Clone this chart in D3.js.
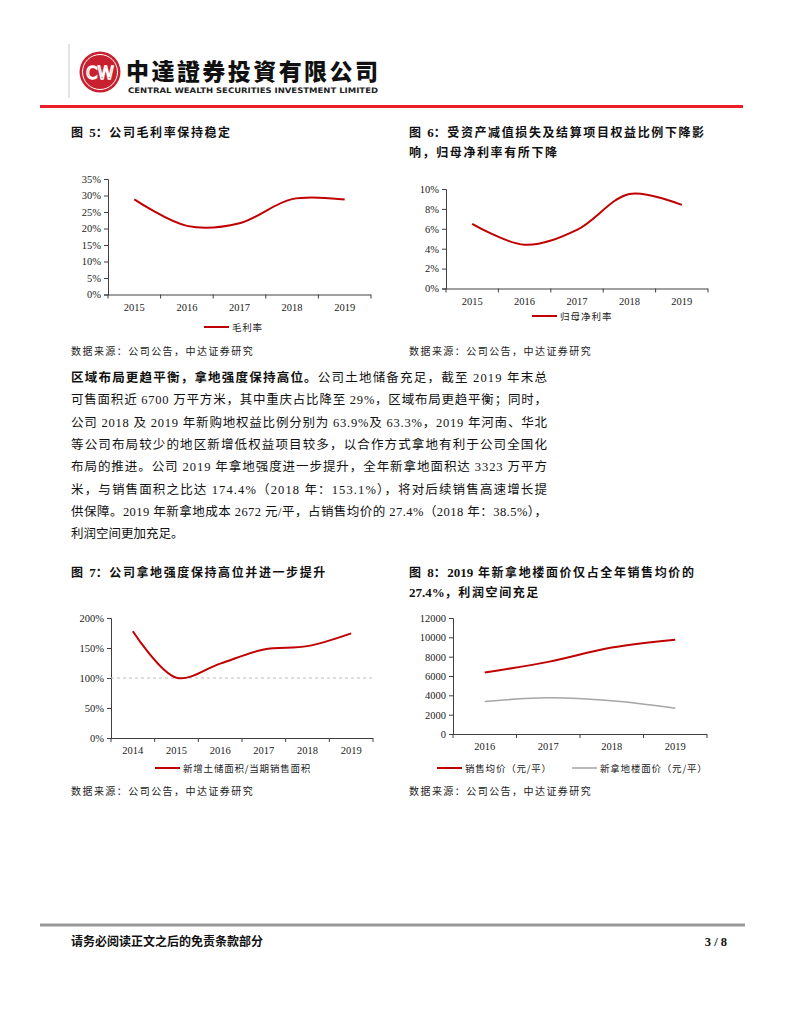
<!DOCTYPE html>
<html>
<head>
<meta charset="utf-8">
<script src="https://cdn.jsdelivr.net/npm/d3@7"></script>
<style>
  body { margin: 0; background: #fff; }
  svg { display: block; }
  .serif { font-family: "Liberation Serif", "Noto Sans CJK SC", serif; }
  .cjk { font-family: "Noto Sans CJK SC", sans-serif; }
</style>
</head>
<body>
<svg id="page" width="791" height="1024"></svg>
<script>
// chart data
const years5 = ["2015", "2016", "2017", "2018", "2019"];
const grossMargin = [28.8, 20.8, 21.6, 28.9, 28.8];
const netMargin = [6.5, 4.4, 5.9, 9.5, 8.4];
const years7 = ["2014", "2015", "2016", "2017", "2018", "2019"];
const landToSales = [178, 100.5, 124, 147.5, 153.1, 174.4];
const years8 = ["2016", "2017", "2018", "2019"];
const salesPrice = [6360, 7460, 8940, 9752];
const landPrice = [3370, 3750, 3440, 2672];

const RED = "#c00000";
const GREY = "#a6a6a6";
const AXIS = "#404040";

const svg = d3.select("#page");

// header
svg.append("line").attr("x1", 69).attr("x2", 69).attr("y1", 44).attr("y2", 98)
  .attr("stroke", "#c8c8c8").attr("stroke-width", 1);
svg.append("circle").attr("cx", 100).attr("cy", 72).attr("r", 20.5).attr("fill", "#c8202f");
svg.append("circle").attr("cx", 100).attr("cy", 72).attr("r", 17.5).attr("fill", "none")
  .attr("stroke", "#fff").attr("stroke-width", 1);
svg.append("text").attr("x", 100).attr("y", 78.5).attr("text-anchor", "middle")
  .attr("font-family", "DejaVu Sans").attr("font-size", 17).attr("fill", "none")
  .attr("stroke", "#fff").attr("stroke-width", 1.3).attr("textLength", 28)
  .attr("lengthAdjust", "spacingAndGlyphs").text("CW");
svg.append("text").attr("class", "cjk").attr("x", 126).attr("y", 80)
  .attr("font-size", 23).attr("font-weight", 900).attr("fill", "#111")
  .attr("textLength", 252).attr("lengthAdjust", "spacing").text("中達證券投資有限公司");
svg.append("text").attr("x", 128).attr("y", 92.5)
  .attr("font-family", "DejaVu Sans").attr("font-size", 7.6).attr("font-weight", "bold")
  .attr("fill", "#222").attr("textLength", 250).attr("lengthAdjust", "spacingAndGlyphs")
  .text("CENTRAL WEALTH SECURITIES INVESTMENT LIMITED");
svg.append("line").attr("x1", 40).attr("x2", 743).attr("y1", 106.5).attr("y2", 106.5)
  .attr("stroke", "#ee1c25").attr("stroke-width", 3);

// titles (numerals unspaced, CJK spaced)
const titles = [
  { x: 71, y: 137, lines: ["图 5：公司毛利率保持稳定"] },
  { x: 409, y: 137, lines: ["图 6：受资产减值损失及结算项目权益比例下降影", "响，归母净利率有所下降"] },
  { x: 71, y: 577, lines: ["图 7：公司拿地强度保持高位并进一步提升"] },
  { x: 409, y: 577, lines: ["图 8：2019 年新拿地楼面价仅占全年销售均价的", "27.4%，利润空间充足"] }
];
titles.forEach((t) => {
  t.lines.forEach((l, i) => {
    const tx = svg.append("text").attr("class", "serif").attr("x", t.x).attr("y", t.y + i * 20)
      .attr("font-size", 12).attr("font-weight", "bold").attr("fill", "#111");
    l.split(/([0-9.%]+)/).filter((s) => s).forEach((s) => {
      const num = /^[0-9.%]+$/.test(s);
      tx.append("tspan").attr("letter-spacing", num ? 0 : 1.6)
        .attr("font-size", num ? 13 : 12).text(s);
    });
  });
});

// source notes
[[71, 355], [409, 355], [71, 795], [409, 795]].forEach(([x, y]) => {
  svg.append("text").attr("class", "cjk").attr("x", x).attr("y", y)
    .attr("font-size", 10).attr("letter-spacing", 1.45).attr("fill", "#222")
    .text("数据来源：公司公告，中达证券研究");
});

function drawChart(cfg) {
  const g = svg.append("g");
  const x = d3.scaleBand().domain(cfg.cats).range([cfg.x0, cfg.x1]);
  const y = d3.scaleLinear().domain(cfg.yDomain).range([cfg.y0, cfg.y1]);

  // y axis
  const yAxis = d3.axisLeft(y).tickValues(cfg.yTicks).tickSize(4).tickFormat(cfg.fmt);
  const ya = g.append("g").attr("transform", `translate(${cfg.x0},0)`).call(yAxis);
  ya.select(".domain").attr("stroke", AXIS);
  ya.selectAll(".tick line").attr("stroke", AXIS);
  ya.selectAll(".tick text").attr("class", "serif").attr("font-size", 10.5)
    .attr("fill", "#222").attr("x", -7);

  // reference line
  if (cfg.refLine != null) {
    g.append("line").attr("x1", cfg.x0).attr("x2", cfg.x1)
      .attr("y1", y(cfg.refLine)).attr("y2", y(cfg.refLine))
      .attr("stroke", "#bfbfbf").attr("stroke-width", 1).attr("stroke-dasharray", "3,3");
  }

  // x axis with ticks at band edges
  g.append("line").attr("x1", cfg.x0).attr("x2", cfg.x1)
    .attr("y1", cfg.y0 + 0.5).attr("y2", cfg.y0 + 0.5).attr("stroke", AXIS);
  const edges = cfg.cats.map((c) => x(c)).concat([x(cfg.cats[cfg.cats.length - 1]) + x.bandwidth()]);
  g.selectAll(".xt").data(edges).enter().append("line")
    .attr("x1", (d) => d).attr("x2", (d) => d)
    .attr("y1", cfg.y0).attr("y2", cfg.y0 + 4).attr("stroke", AXIS);
  g.selectAll(".xl").data(cfg.cats).enter().append("text").attr("class", "serif")
    .attr("x", (d) => x(d) + x.bandwidth() / 2).attr("y", cfg.y0 + 16)
    .attr("text-anchor", "middle").attr("font-size", 10.5).attr("fill", "#222").text((d) => d);

  // lines
  const line = d3.line().x((d, i) => x(cfg.cats[i]) + x.bandwidth() / 2).y((d) => y(d))
    .curve(d3.curveCatmullRom.alpha(0.5));
  cfg.series.forEach((s) => {
    g.append("path").datum(s.values).attr("d", line).attr("fill", "none")
      .attr("stroke", s.color).attr("stroke-width", s.width || 2);
  });

  // legend
  cfg.series.forEach((s) => {
    const lx = s.legendX, ly = cfg.legendY;
    g.append("line").attr("x1", lx).attr("x2", lx + 25).attr("y1", ly).attr("y2", ly)
      .attr("stroke", s.color).attr("stroke-width", s.width || 2);
    g.append("text").attr("class", "cjk").attr("x", lx + 28).attr("y", ly + 3.5)
      .attr("font-size", 9.5).attr("letter-spacing", s.ls || 0.8).attr("fill", "#222").text(s.name);
  });
}

const pct = (d) => d + "%";

drawChart({
  cats: years5, x0: 108, x1: 371, y0: 294.5, y1: 179, yDomain: [0, 35],
  yTicks: d3.range(0, 36, 5), fmt: pct, legendY: 327,
  series: [{ name: "毛利率", values: grossMargin, color: RED, legendX: 204 }]
});
drawChart({
  cats: years5, x0: 446, x1: 708, y0: 288.5, y1: 189, yDomain: [0, 10],
  yTicks: d3.range(0, 11, 2), fmt: pct, legendY: 316,
  series: [{ name: "归母净利率", values: netMargin, color: RED, legendX: 532, ls: 1 }]
});
drawChart({
  cats: years7, x0: 111, x1: 373, y0: 738, y1: 618, yDomain: [0, 200],
  yTicks: d3.range(0, 201, 50), fmt: pct, legendY: 768, refLine: 100,
  series: [{ name: "新增土储面积/当期销售面积", values: landToSales, color: RED, legendX: 155 }]
});
drawChart({
  cats: years8, x0: 453, x1: 707, y0: 734, y1: 618, yDomain: [0, 12000],
  yTicks: d3.range(0, 12001, 2000), fmt: (d) => String(d), legendY: 768,
  series: [
    { name: "销售均价（元/平）", values: salesPrice, color: RED, legendX: 437 },
    { name: "新拿地楼面价（元/平）", values: landPrice, color: GREY, legendX: 572, width: 1.6 }
  ]
});

// body paragraph
const para = [
  ["区域布局更趋平衡，拿地强度保持高位。", "公司土地储备充足，截至 2019 年末总"],
  ["", "可售面积近 6700 万平方米，其中重庆占比降至 29%，区域布局更趋平衡；同时，"],
  ["", "公司 2018 及 2019 年新购地权益比例分别为 63.9%及 63.3%，2019 年河南、华北"],
  ["", "等公司布局较少的地区新增低权益项目较多，以合作方式拿地有利于公司全国化"],
  ["", "布局的推进。公司 2019 年拿地强度进一步提升，全年新拿地面积达 3323 万平方"],
  ["", "米，与销售面积之比达 174.4%（2018 年：153.1%），将对后续销售高速增长提"],
  ["", "供保障。2019 年新拿地成本 2672 元/平，占销售均价的 27.4%（2018 年：38.5%），"],
  ["", "利润空间更加充足。"]
];
para.forEach(([b, r], i) => {
  const t = svg.append("text").attr("class", "serif").attr("x", 71).attr("y", 382 + i * 22.3)
    .attr("font-size", 12.5).attr("fill", "#111");
  if (i < para.length - 1) t.attr("textLength", 476).attr("lengthAdjust", "spacing");
  if (b) t.append("tspan").attr("font-weight", "bold").text(b);
  t.append("tspan").text(r);
});

// footer
svg.append("line").attr("x1", 40).attr("x2", 745).attr("y1", 925).attr("y2", 925)
  .attr("stroke", "#999").attr("stroke-width", 3);
svg.append("text").attr("class", "cjk").attr("x", 71).attr("y", 946)
  .attr("font-size", 12).attr("font-weight", "bold").attr("fill", "#111")
  .text("请务必阅读正文之后的免责条款部分");
svg.append("text").attr("class", "serif").attr("x", 727).attr("y", 946)
  .attr("text-anchor", "end").attr("font-size", 12.5).attr("font-weight", "bold")
  .attr("fill", "#111").text("3 / 8");
</script>
</body>
</html>
